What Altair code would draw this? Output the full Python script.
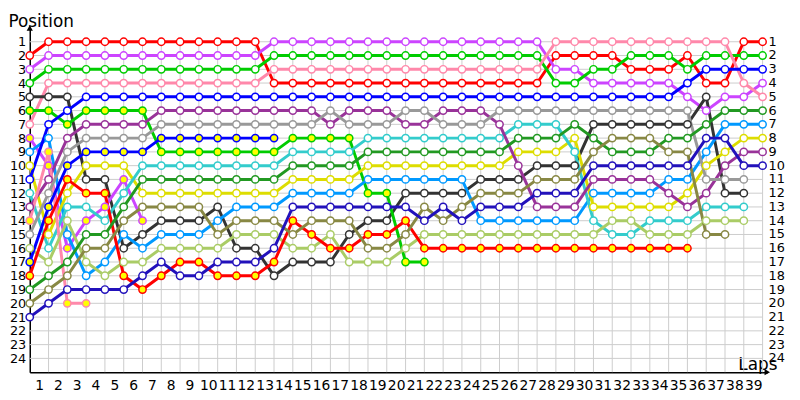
import altair as alt
import pandas as pd

laps = list(range(40))

# positions per lap (lap 0 = grid)
red = [2,1,1,1,1,1,1,1,1,1,1,1,1,4,4,4,4,4,4,4,4,4,4,4,4,4,4,4,2,2,2,2,3,3,3,2,4,4,1,1]
violet = [3,2,2,2,2,2,2,2,2,2,2,2,2,1,1,1,1,1,1,1,1,1,1,1,1,1,1,1,3,3,4,4,4,4,4,5,6,5,5,4]
green = [4,3,3,3,3,3,3,3,3,3,3,3,3,2,2,2,2,2,2,2,2,2,2,2,2,2,2,2,4,4,3,3,2,2,2,3,2,2,2,2]
pink = [7,4,4,4,4,4,4,4,4,4,4,4,4,3,3,3,3,3,3,3,3,3,3,3,3,3,3,3,1,1,1,1,1,1,1,1,1,1,4,5]
black = [5,5,5,11,11,16,15,14,14,14,13,16,16,18,17,17,17,15,14,14,12,12,12,12,11,11,11,10,10,10,7,7,7,7,7,7,5,12,12]
green_y = [6,6,7,6,6,6,6,9,9,9,9,9,9,9,8,8,8,8,12,12,17,17]
violet_y = [8,10,16,14,13,11,14]
sky = [9,8,15,18,17,15,16,15,15,15,14,13,13,13,12,12,12,12,11,11,11,11,11,11,14,14,14,14,14,14,12,12,12,12,11,11,9,7,7,7]
yellow = [10,15,12,10,10,10,12,12,12,12,12,12,12,12,11,11,11,11,10,10,10,10,10,10,10,10,9,9,9,8,13,13,13,13,13,12,10,9,8,8]
blue = [11,7,6,5,5,5,5,5,5,5,5,5,5,5,5,5,5,5,5,5,5,5,5,5,5,5,5,5,5,5,5,5,5,5,5,4,3,3,3,3]
cyan = [12,16,13,13,14,12,10,10,10,10,10,10,10,10,9,9,9,9,8,8,8,8,8,8,8,8,7,7,7,9,14,15,15,14,14,14,13,13,13]
purple = [13,11,8,7,7,7,7,6,6,6,6,6,6,6,6,6,7,6,6,6,7,7,6,6,6,7,10,13,13,13,11,11,11,11,12,13,12,10,9,9]
pink_y = [14,9,20,20]
grey = [15,12,9,8,8,8,8,7,7,7,7,7,7,7,7,7,6,7,7,7,6,6,7,7,7,6,6,6,6,6,6,6,6,6,6,6,11,11,11]
light_green = [16,17,14,17,18,17,17,16,16,16,16,15,15,15,16,16,15,17,17,17,16,15,15,15,15,15,15,15,15,15,15,14,14,15,15,15,14,14,14]
blue_y = [17,13,10,9,9,9,9,8,8,8,8,8,8,8]
red_y = [18,14,11,12,12,18,19,18,17,17,18,18,18,17,14,15,16,16,15,15,14,16,16,16,16,16,16,16,16,16,16,16,16,16,16,16]
dark_green = [19,18,17,15,15,13,11,11,11,11,11,11,11,11,10,10,10,10,9,9,9,9,9,9,9,9,8,8,8,7,8,9,9,9,8,8,7,6,6,6]
olive = [20,19,18,16,16,14,13,13,13,13,15,14,14,14,15,14,14,14,16,16,15,13,14,13,12,12,12,11,11,11,9,8,8,8,9,9,15,15]
navy = [21,20,19,19,19,19,18,17,18,18,17,17,17,16,13,13,13,13,13,13,13,14,13,14,13,13,13,12,12,12,10,10,10,10,10,10,8,8,10,10]

drivers = [
    ("red", red, "#ff0000", False),
    ("violet", violet, "#cc44ff", False),
    ("green", green, "#00cc00", False),
    ("pink", pink, "#ff88aa", False),
    ("black", black, "#333333", False),
    ("green_y", green_y, "#00cc00", True),
    ("violet_y", violet_y, "#cc44ff", True),
    ("sky", sky, "#0099ff", False),
    ("yellow", yellow, "#dddd00", False),
    ("blue", blue, "#0000ff", False),
    ("cyan", cyan, "#33cccc", False),
    ("purple", purple, "#993399", False),
    ("pink_y", pink_y, "#ff88aa", True),
    ("grey", grey, "#999999", False),
    ("light_green", light_green, "#aacc66", False),
    ("blue_y", blue_y, "#0000ff", True),
    ("red_y", red_y, "#ff0000", True),
    ("dark_green", dark_green, "#229922", False),
    ("olive", olive, "#888844", False),
    ("navy", navy, "#2211bb", False),
]

records = []
for order, (name, pos, color, filled) in enumerate(drivers):
    for lap, p in zip(laps, pos):
        records.append({"driver": name, "lap": lap, "pos": p, "ord": order,
                        "fillc": "#ffff00" if filled else "#ffffff"})
df = pd.DataFrame(records)

names = [d[0] for d in drivers]
colors = [d[2] for d in drivers]

row_ticks = list(range(1, 25))
lap_ticks = list(range(1, 40))

FONT = "DejaVu Sans"
xmax = 39.25
x_scale = alt.Scale(domain=[0, xmax], nice=False, zero=False)
y_scale = alt.Scale(domain=[0, 25], reverse=True, nice=False, zero=False)
color_scale = alt.Scale(domain=names, range=colors)

x_axis = alt.Axis(values=lap_ticks, grid=False, ticks=False,
                  domain=True, domainColor="#000000", domainWidth=1.5,
                  labelFont=FONT, labelFontSize=14, labelColor="#000000",
                  labelPadding=7, labelOffset=-9.5, labelFlush=False,
                  labelOverlap=False, labelBound=False,
                  title="Laps", titleFont=FONT, titleFontSize=17,
                  titleFontWeight="normal", titleColor="#000000",
                  titleX=716, titleY=-3, titleAlign="left",
                  titleBaseline="alphabetic")
y_axis = alt.Axis(values=row_ticks, orient="left", grid=False, ticks=False,
                  domain=True, domainColor="#000000", domainWidth=1.5,
                  labelFont=FONT, labelFontSize=13, labelColor="#000000",
                  labelPadding=4, labelFlush=False, labelOverlap=False,
                  labelBound=False,
                  title="Position", titleFont=FONT, titleFontSize=17,
                  titleFontWeight="normal", titleColor="#000000", titleAngle=0,
                  titleX=-22, titleY=-1, titleAlign="left",
                  titleBaseline="alphabetic")

grid_rows = pd.DataFrame({"pos": row_ticks})
grid_laps = pd.DataFrame({"lap": lap_ticks})

hgrid = alt.Chart(grid_rows).mark_rule(color="#cccccc", strokeWidth=1).encode(
    y=alt.Y("pos:Q", scale=y_scale, axis=y_axis),
    x=alt.datum(0, scale=x_scale, axis=x_axis),
    x2=alt.datum(39),
)

vgrid = alt.Chart(grid_laps).mark_rule(color="#cccccc", strokeWidth=1).encode(
    x=alt.X("lap:Q", scale=x_scale, axis=x_axis),
    y=alt.datum(0.8, scale=y_scale, axis=y_axis),
    y2=alt.datum(25),
)

right_labels = alt.Chart(grid_rows).mark_text(
    align="left", baseline="middle", dx=6, font=FONT, fontSize=13, color="#000000"
).encode(
    y=alt.Y("pos:Q", scale=y_scale, axis=y_axis),
    x=alt.datum(39, scale=x_scale, axis=x_axis),
    text="pos:Q",
)

lines = alt.Chart(df).mark_line(strokeWidth=3).encode(
    x=alt.X("lap:Q", scale=x_scale, axis=x_axis),
    y=alt.Y("pos:Q", scale=y_scale, axis=y_axis),
    color=alt.Color("driver:N", scale=color_scale, legend=None),
    detail="driver:N",
    order="lap:Q",
)

points = alt.Chart(df).mark_point(shape="circle", filled=False, size=55, strokeWidth=1.5, opacity=1).encode(
    x=alt.X("lap:Q", scale=x_scale, axis=x_axis),
    y=alt.Y("pos:Q", scale=y_scale, axis=y_axis),
    stroke=alt.Stroke("driver:N", scale=color_scale, legend=None),
    fill=alt.Fill("fillc:N", scale=None),
)

arrow_df = pd.DataFrame({"k": [0]})
arrow_up = alt.Chart(arrow_df).mark_point(shape="triangle-up", filled=True, color="#000000", size=40, opacity=1).encode(
    x=alt.datum(0, scale=x_scale, axis=x_axis), y=alt.datum(0, scale=y_scale, axis=y_axis))
arrow_right = alt.Chart(arrow_df).mark_point(shape="triangle-right", filled=True, color="#000000", size=40, opacity=1).encode(
    x=alt.datum(xmax, scale=x_scale, axis=x_axis), y=alt.datum(25, scale=y_scale, axis=y_axis))

chart = alt.layer(hgrid, vgrid, right_labels, lines, points, arrow_up, arrow_right).properties(
    width=xmax * 19,
    height=348,
    autosize=alt.AutoSizeParams(type="none"),
    padding={"left": 22, "top": 18, "right": 25, "bottom": 30},
).configure_view(stroke=None)

chart.save("out.html", embed_options={"renderer": "svg", "actions": False})
